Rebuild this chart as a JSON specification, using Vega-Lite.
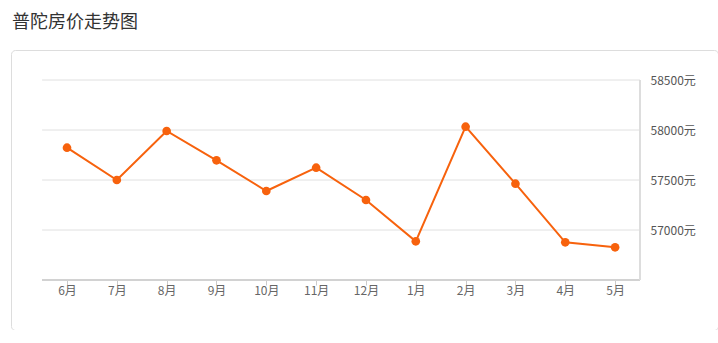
{
  "$schema": "https://vega.github.io/schema/vega-lite/v6.json",
  "width": 707,
  "height": 280,
  "autosize": {"type": "none"},
  "padding": {"left": 11, "top": 50, "right": 0, "bottom": 0},
  "background": "white",
  "title": {
    "text": "普陀房价走势图",
    "anchor": "start",
    "frame": "group",
    "font": "Noto Sans CJK SC",
    "fontSize": 18,
    "fontWeight": "normal",
    "color": "#333333",
    "baseline": "alphabetic",
    "offset": 4,
    "dx": 1
  },
  "config": {
    "view": {"stroke": "#dddddd", "strokeWidth": 1, "cornerRadius": 4},
    "font": "Noto Sans CJK SC"
  },
  "datasets": {
    "prices": [
      {"month": "6月", "price": 57823},
      {"month": "7月", "price": 57500},
      {"month": "8月", "price": 57990},
      {"month": "9月", "price": 57697},
      {"month": "10月", "price": 57390},
      {"month": "11月", "price": 57623},
      {"month": "12月", "price": 57300},
      {"month": "1月", "price": 56887},
      {"month": "2月", "price": 58033},
      {"month": "3月", "price": 57463},
      {"month": "4月", "price": 56877},
      {"month": "5月", "price": 56827}
    ],
    "grid": [
      {"level": 57000},
      {"level": 57500},
      {"level": 58000},
      {"level": 58500}
    ]
  },
  "resolve": {"scale": {"x": "shared", "y": "shared"}},
  "layer": [
    {
      "data": {"name": "grid"},
      "mark": {"type": "rule", "color": "#e0e0e0", "strokeWidth": 1, "xOffset": -24.9, "x2Offset": 24.9},
      "encoding": {
        "y": {"field": "level", "type": "quantitative"},
        "x": {"datum": "6月", "type": "ordinal"},
        "x2": {"datum": "5月"}
      }
    },
    {
      "data": {"name": "grid"},
      "mark": {"type": "rule", "color": "#d2d2d2", "strokeWidth": 2, "xOffset": -24.9, "x2Offset": 24.9},
      "encoding": {
        "y": {"datum": 56500, "type": "quantitative"},
        "x": {"datum": "6月", "type": "ordinal"},
        "x2": {"datum": "5月"}
      }
    },
    {
      "data": {"name": "grid"},
      "mark": {"type": "rule", "color": "#dcdcdc", "strokeWidth": 1.5, "xOffset": 24.9},
      "encoding": {
        "x": {"datum": "5月", "type": "ordinal"},
        "y": {"datum": 56500, "type": "quantitative"},
        "y2": {"datum": 58500}
      }
    },
    {
      "data": {"name": "prices"},
      "mark": {
        "type": "line",
        "color": "#f7620d",
        "strokeWidth": 2,
        "point": {"filled": true, "size": 75, "color": "#f7620d", "opacity": 1}
      },
      "encoding": {
        "x": {
          "field": "month",
          "type": "ordinal",
          "sort": null,
          "scale": {
            "type": "point",
            "domain": ["6月", "7月", "8月", "9月", "10月", "11月", "12月", "1月", "2月", "3月", "4月", "5月"],
            "range": [56, 604.1],
            "padding": 0
          },
          "axis": {
            "orient": "bottom",
            "offset": -50,
            "title": null,
            "domain": false,
            "grid": false,
            "ticks": true,
            "tickColor": "#cccccc",
            "tickSize": 5,
            "labelPadding": 5,
            "labelAngle": 0,
            "labelAlign": "center",
            "labelColor": "#666666",
            "labelFontSize": 12,
            "labelFont": "Noto Sans CJK SC"
          }
        },
        "y": {
          "field": "price",
          "type": "quantitative",
          "scale": {"domain": [56000, 58800], "nice": false, "zero": false},
          "axis": {
            "orient": "right",
            "offset": -78,
            "title": null,
            "domain": false,
            "ticks": false,
            "grid": false,
            "values": [57000, 57500, 58000, 58500],
            "labelExpr": "datum.value + '元'",
            "labelPadding": 10,
            "labelColor": "#555555",
            "labelFontSize": 12,
            "labelFont": "Noto Sans CJK SC"
          }
        }
      }
    }
  ]
}
